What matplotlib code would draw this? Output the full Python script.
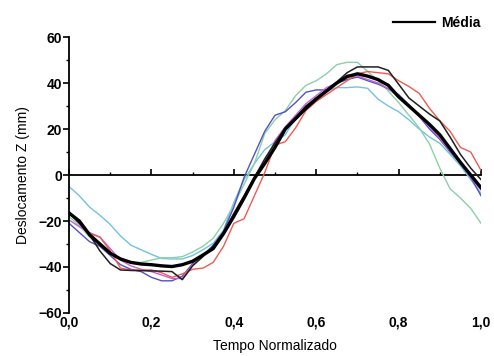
import numpy as np
import matplotlib.pyplot as plt
from matplotlib.ticker import MultipleLocator, FuncFormatter

plt.rcParams['font.family'] = ['Liberation Sans', 'DejaVu Sans']

# Tempo normalizado
t = [0.000, 0.025, 0.050, 0.075, 0.100, 0.125, 0.150, 0.175, 0.200, 0.225,
     0.250, 0.275, 0.300, 0.325, 0.350, 0.375, 0.400, 0.425, 0.450, 0.475,
     0.500, 0.525, 0.550, 0.575, 0.600, 0.625, 0.650, 0.675, 0.700, 0.725,
     0.750, 0.775, 0.800, 0.825, 0.850, 0.875, 0.900, 0.925, 0.950, 0.975, 1.000]

media = [-16.5, -20, -26, -30, -34, -36.5, -38, -38.7, -39, -39.5,
         -39.8, -39, -37.5, -34.8, -32, -25.5, -18, -10, -1.5, 5,
         12, 20, 24.5, 29, 33, 36.5, 40, 42.8, 44, 43,
         41.5, 39, 34, 30, 26, 22, 17.5, 11.5, 5.5, 0, -5.5]
preto = [-16.5, -21, -26, -33, -38.5, -41.3, -41.5, -41.6, -41.7, -41.8,
         -42, -45.5, -39.5, -35.5, -31, -25, -17, -9, -1, 7,
         14, 20.5, 25, 30, 33.5, 37, 40.5, 44.5, 47, 47,
         47, 45.5, 39.5, 33.5, 30, 26.5, 23.5, 16.5, 9, 3, -2]
vermelho = [-16, -21, -25.5, -27, -33, -40.5, -41.3, -41.3, -41.3, -42.5,
            -44.5, -43, -41, -40.5, -38, -31, -21, -19, -9, 1,
            13, 14.5, 20.5, 28, 32, 35, 38, 41, 44, 45,
            44.5, 44, 41, 38.5, 35.5, 29, 23.6, 19, 12, 10, 2]
azul = [-21, -25, -29, -31, -35, -39, -41, -42, -44.5, -46,
        -46, -44, -38.5, -35, -30.5, -24.5, -14, -1, 9, 19,
        26, 27.5, 31.5, 36, 37, 37, 40, 41.5, 42.6, 41,
        39.5, 37.5, 35, 30.5, 25.5, 20, 15.5, 10, 5, -1, -9]
magenta = [-19.5, -22.5, -25, -27, -32, -37, -39.5, -41, -42, -43.5,
           -45, -45, -39, -35, -32, -25, -16.5, -9, -2, 5,
           15, 21, 26, 31, 34.5, 38, 40, 43.5, 43, 41.5,
           40, 37.5, 34, 30, 25.5, 21, 16, 10.5, 5, -1, -6.5]
verde = [-18, -22, -27, -31, -34, -36.5, -38, -38, -37, -36,
         -36, -35.5, -33.5, -31, -27.5, -21, -13, -4, 5, 18,
         24, 28, 34.5, 39, 41, 44, 48, 49, 49, 45,
         41, 36.5, 31.5, 26, 20.5, 13.5, 3, -6, -10, -14.5, -21]
ciano = [-5, -9, -14, -17.5, -21.5, -26.5, -30.5, -32.5, -34.5, -36.3,
         -36.5, -36.5, -35, -32.5, -29.7, -24, -12, -2, 5, 11,
         14.5, 17.5, 25, 30, 33.5, 36.5, 38, 38, 38.3, 37.7,
         33, 30, 27.5, 24, 20, 16.5, 13.8, 9, 4, -2, -8]

fig = plt.figure(figsize=(4.94, 3.56), dpi=100)
ax = fig.add_axes([0.1397, 0.1208, 0.834, 0.7752])

ax.plot(t, ciano, color='#72c2e0', lw=1.0)
ax.plot(t, verde, color='#8ccfa8', lw=1.0)
ax.plot(t, azul, color='#5252c2', lw=1.0)
ax.plot(t, magenta, color='#c062d2', lw=1.0)
ax.plot(t, vermelho, color='#f05a52', lw=1.0)
ax.plot(t, preto, color='#202020', lw=1.1)
ax.plot(t, media, color='black', lw=2.4, label='Média')

ax.set_xlim(0, 1.0)
ax.set_ylim(-60, 60)

ax.spines['top'].set_visible(False)
ax.spines['right'].set_visible(False)
ax.spines['bottom'].set_visible(False)
ax.spines['left'].set_linewidth(1.3)

virgula = FuncFormatter(lambda v, p: f"{v:.1f}".replace('.', ','))
ax.xaxis.set_major_locator(MultipleLocator(0.2))
ax.xaxis.set_major_formatter(virgula)
ax.tick_params(axis='x', length=0, labelsize=10, pad=2)
ax.yaxis.set_major_locator(MultipleLocator(20))
ax.yaxis.set_minor_locator(MultipleLocator(10))
ax.tick_params(axis='y', which='major', direction='out', length=4, width=1.2, labelsize=10, pad=1)
ax.tick_params(axis='y', which='minor', direction='out', length=2.5, width=1.0)
for lab in ax.get_xticklabels() + ax.get_yticklabels():
    lab.set_fontweight('bold')

# eixo x desenhado em y = 0
sec = ax.secondary_xaxis(0.5)
for s in sec.spines.values():
    s.set_linewidth(1.3)
sec.xaxis.set_major_locator(MultipleLocator(0.2))
sec.xaxis.set_minor_locator(MultipleLocator(0.1))
sec.tick_params(which='both', top=True, bottom=False, labeltop=False, labelbottom=False)
sec.tick_params(which='major', direction='out', length=4, width=1.2)
sec.tick_params(which='minor', direction='out', length=2.5, width=1.0)

ax.set_xlabel('Tempo Normalizado', fontsize=10, labelpad=7)
ax.set_ylabel('Deslocamento Z (mm)', fontsize=10, labelpad=6)

leg = fig.legend(loc='upper right', bbox_to_anchor=(0.997, 0.99), frameon=False,
                 handlelength=3.0, handletextpad=0.4, prop={'weight': 'bold', 'size': 10})
leg.get_lines()[0].set_linewidth(1.6)

fig.savefig('out.png', dpi=100)
